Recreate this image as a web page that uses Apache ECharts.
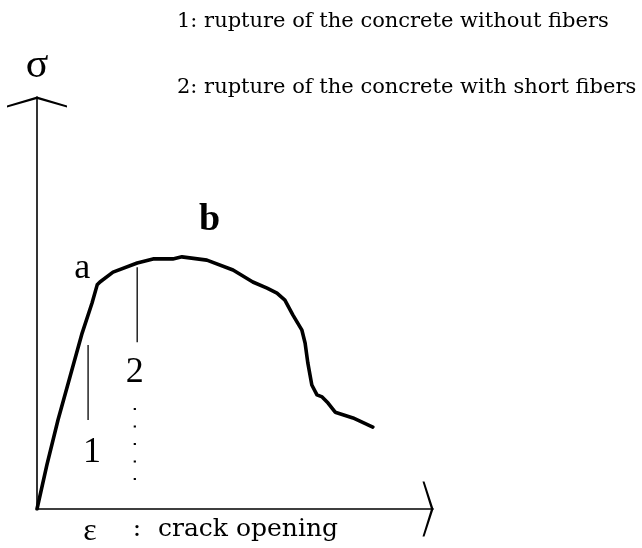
<!DOCTYPE html>
<html>
<head>
<meta charset="utf-8">
<title>stress - crack opening</title>
<script src="https://cdn.jsdelivr.net/npm/echarts@6/dist/echarts.min.js"></script>
<style>
  html, body { margin: 0; padding: 0; background: #fff; }
  #chart { width: 642px; height: 548px; }
</style>
</head>
<body>
<div id="chart"></div>
<script>
// curve (arbitrary units, 0..100 on both axes)
const strain = [0, 2.5, 5.3, 8.3, 11.4, 13.9, 15.2, 15.9, 19.2, 25.3, 29.3, 34.3, 36.6, 42.9, 49.5, 54.5, 58.1, 60.6, 62.6, 64.6, 66.9, 67.7, 68.4, 69.4, 70.7, 72.0, 73.5, 75.3, 79.8, 84.8];
const stress = [0, 10.7, 21.6, 32.0, 42.7, 50.0, 54.4, 55.1, 57.5, 59.7, 60.7, 60.7, 61.2, 60.4, 58.0, 55.1, 53.6, 52.4, 50.7, 47.1, 43.4, 40.3, 35.4, 30.1, 27.7, 27.2, 25.7, 23.5, 22.1, 19.9];

// rupture markers: [x, yTop, yBottom]
const rupture1 = [12.9, 39.8, 21.6];
const rupture2 = [25.3, 58.7, 40.5];
const dotted = [24.7, 24.5, 3.4];

// point labels
const pointNames = ['a', 'b', '1', '2'];
const pointX = [11.4, 43.6, 13.9, 24.7];
const pointY = [58.3, 70.1, 13.6, 33.0];

const legendLines = [
  '1: rupture of the concrete without fibers',
  '2: rupture of the concrete with short fibers'
];

const ink = '#000';
const serif = '"Liberation Serif", "Times New Roman", serif';
const serif2 = '"DejaVu Serif", serif';
const caretY = 'path://M0 9 L30 0 L60 9 L60 11 L30 2.5 L0 11 Z';
const caretX = 'path://M0 9 L27.5 0 L55 9 L55 11 L27.5 2.5 L0 11 Z';

const chart = echarts.init(document.getElementById('chart'));

const curve = strain.map((x, i) => [x, stress[i]]);
const labelStyles = {
  a: { fontSize: 36, fontWeight: 'normal' },
  b: { fontSize: 38, fontWeight: 'bold' },
  '1': { fontSize: 36, fontWeight: 'normal' },
  '2': { fontSize: 36, fontWeight: 'normal' }
};
const points = pointNames.map((n, i) => ({
  name: n,
  value: [pointX[i], pointY[i]],
  label: labelStyles[n]
}));

chart.setOption({
  animation: false,
  grid: { left: 37, right: 209, top: 97, bottom: 39 },
  xAxis: {
    type: 'value',
    min: 0,
    max: 100,
    axisLine: {
      show: true,
      lineStyle: { color: ink, width: 1.6 },
      symbol: ['none', caretX],
      symbolSize: [55, 11],
      symbolOffset: [0, -5]
    },
    axisTick: { show: false },
    axisLabel: { show: false },
    splitLine: { show: false }
  },
  yAxis: {
    type: 'value',
    min: 0,
    max: 100,
    name: 'σ',
    nameLocation: 'end',
    nameGap: 10,
    nameTextStyle: { fontFamily: serif, fontSize: 42, color: ink },
    axisLine: {
      show: true,
      lineStyle: { color: ink, width: 1.6 },
      symbol: ['none', caretY],
      symbolSize: [60, 11],
      symbolOffset: [0, -5]
    },
    axisTick: { show: false },
    axisLabel: { show: false },
    splitLine: { show: false }
  },
  graphic: [
    {
      type: 'text', x: 177, y: 22,
      style: { text: legendLines[0], font: '21px ' + serif2, fill: ink, textAlign: 'left', verticalAlign: 'middle' }
    },
    {
      type: 'text', x: 177, y: 88,
      style: { text: legendLines[1], font: '21px ' + serif2, fill: ink, textAlign: 'left', verticalAlign: 'middle' }
    },
    {
      type: 'text', x: 90, y: 532,
      style: { text: 'ε', font: '32px ' + serif, fill: ink, textAlign: 'center', verticalAlign: 'middle' }
    },
    {
      type: 'text', x: 137, y: 529,
      style: { text: ':', font: '25px ' + serif2, fill: ink, textAlign: 'center', verticalAlign: 'middle' }
    },
    {
      type: 'text', x: 158, y: 529,
      style: { text: 'crack opening', font: '25px ' + serif2, fill: ink, textAlign: 'left', verticalAlign: 'middle' }
    }
  ],
  series: [
    {
      type: 'line',
      data: curve,
      symbol: 'none',
      smooth: false,
      lineStyle: { color: ink, width: 3.6, join: 'round', cap: 'round' }
    },
    {
      type: 'line',
      data: [[rupture1[0], rupture1[1]], [rupture1[0], rupture1[2]]],
      symbol: 'none',
      lineStyle: { color: ink, width: 1.3 }
    },
    {
      type: 'line',
      data: [[rupture2[0], rupture2[1]], [rupture2[0], rupture2[2]]],
      symbol: 'none',
      lineStyle: { color: ink, width: 1.3 }
    },
    {
      type: 'line',
      data: [[dotted[0], dotted[1]], [dotted[0], dotted[2]]],
      symbol: 'none',
      lineStyle: { color: ink, width: 2.2, type: [2, 15.5] }
    },
    {
      type: 'scatter',
      data: points,
      symbolSize: 1,
      itemStyle: { color: 'transparent', opacity: 1 },
      label: {
        show: true,
        position: 'inside',
        formatter: '{b}',
        fontFamily: serif,
        color: ink
      }
    }
  ]
});
</script>
</body>
</html>
